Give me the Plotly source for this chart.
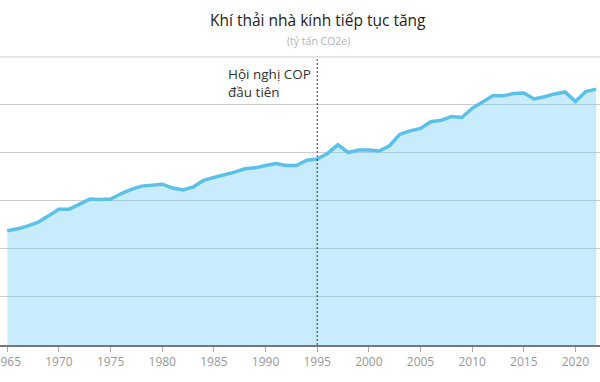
import plotly.graph_objects as go

years = list(range(1965, 2023))
emissions = [
    23.8, 24.2, 24.8, 25.6, 26.9, 28.3, 28.3, 29.4, 30.4, 30.3,
    30.4, 31.5, 32.4, 33.1, 33.3, 33.5, 32.7, 32.3, 32.9, 34.3,
    34.9, 35.4, 36.0, 36.7, 36.9, 37.4, 37.8, 37.4, 37.4, 38.5,
    38.75, 39.9, 41.7, 40.1, 40.6, 40.6, 40.4, 41.5, 43.9, 44.6,
    45.1, 46.5, 46.8, 47.6, 47.4, 49.3, 50.7, 51.9, 51.9, 52.4,
    52.5, 51.25, 51.7, 52.3, 52.7, 50.7, 52.8, 53.3,
]
tick_years = list(range(1965, 2025, 5))
grid_values = [0, 10, 20, 30, 40, 50, 60]
cop_year = 1995

title_text = "Khí thải nhà kính tiếp tục tăng"
subtitle_text = "(tỷ tấn CO2e)"
cop_label = "Hội nghị COP<br>đầu tiên"

PLOT_TOP, PLOT_BOTTOM = 56, 345
PH = PLOT_BOTTOM - PLOT_TOP


def py(pix_y):
    return (PLOT_BOTTOM - pix_y) / PH


fig = go.Figure()
fig.add_trace(go.Scatter(
    x=years, y=emissions, mode="lines",
    line=dict(color="#5bc0ea", width=3.5),
    fill="tozeroy", fillcolor="rgba(100,200,250,0.35)",
    hoverinfo="skip",
))

# top grid line (at the range edge)
fig.add_shape(type="line", x0=0, x1=1, xref="paper",
              y0=grid_values[-1], y1=grid_values[-1], yref="y",
              line=dict(color="#cccccc", width=1), layer="below")

fig.add_shape(type="line", x0=cop_year, x1=cop_year, xref="x",
              y0=0, y1=grid_values[-1], yref="y",
              line=dict(color="#333333", width=1, dash="2px,2px"))

fig.add_annotation(x=cop_year, y=grid_values[-1], xref="x", yref="y",
                   text=cop_label, showarrow=False,
                   xanchor="right", yanchor="top", align="left",
                   xshift=-4, yshift=-6,
                   font=dict(family="Open Sans", size=13.5, color="#333333"))

fig.add_annotation(x=318/600, y=py(20), xref="paper", yref="paper",
                   text=title_text, showarrow=False,
                   xanchor="center", yanchor="middle",
                   font=dict(family="Open Sans", size=15.5, color="#222222"))
fig.add_annotation(x=318/600, y=py(41), xref="paper", yref="paper",
                   text=subtitle_text, showarrow=False,
                   xanchor="center", yanchor="middle",
                   font=dict(family="Open Sans", size=10.5, color="#b5b5b5"))

x0 = 1965 - 7.3 / 10.33
x1 = x0 + 600 / 10.33

fig.update_layout(
    width=600, height=382,
    margin=dict(l=0, r=0, t=PLOT_TOP, b=382 - PLOT_BOTTOM, autoexpand=False),
    paper_bgcolor="white", plot_bgcolor="white",
    showlegend=False,
    xaxis=dict(range=[x0, x1], tickvals=tick_years,
               ticktext=[str(y) for y in tick_years],
               automargin=False, ticklabeloverflow="allow",
               showgrid=False, zeroline=False,
               showline=True, linecolor="#777777", linewidth=1.5,
               ticks="outside", ticklen=5, tickcolor="#aaaaaa",
               tickfont=dict(family="Open Sans", size=12, color="#999999")),
    yaxis=dict(range=[0, 60.2], tickvals=grid_values,
               automargin=False,
               showticklabels=False, showgrid=True,
               gridcolor="#cccccc", gridwidth=1, zeroline=False),
)

fig.write_html("out.html", config={"displayModeBar": False},
               post_script="document.body.style.margin='0';document.body.style.overflow='hidden';")
